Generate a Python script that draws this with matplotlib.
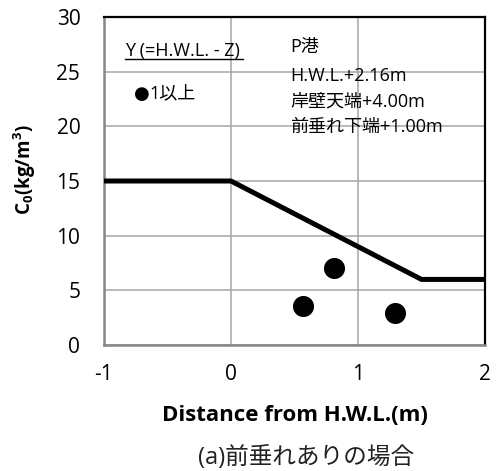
import matplotlib
matplotlib.use("Agg")
import matplotlib.pyplot as plt

plt.rcParams['font.family'] = ['Open Sans', 'Noto Sans CJK JP', 'DejaVu Sans']
plt.rcParams['axes.unicode_minus'] = False

line_x = [-1, 0, 1.5, 2]
line_y = [15, 15, 6, 6]
pts_x = [0.81, 0.57, 1.29]
pts_y = [7.0, 3.6, 2.9]
xticks = [-1, 0, 1, 2]
yticks = [0, 5, 10, 15, 20, 25, 30]
info_lines = ['P港', 'H.W.L.+2.16m', '岸壁天端+4.00m', '前垂れ下端+1.00m']

fig = plt.figure(figsize=(4.98, 4.71), dpi=100)
ax = fig.add_axes([0.2088, 0.2675, 0.7651, 0.6964])
ax.set_xlim(-1, 2)
ax.set_ylim(0, 30)
ax.set_xticks(xticks)
ax.set_yticks(yticks)
ax.grid(True, color='#a6a6a6', linewidth=1.1)
ax.set_axisbelow(True)
ax.plot(line_x, line_y, color='black', linewidth=3.6, solid_capstyle='butt', clip_on=False, zorder=3)
ax.scatter(pts_x, pts_y, s=200, color='black', zorder=4)

for s in ['left', 'bottom']:
    ax.spines[s].set_color('#868686')
    ax.spines[s].set_linewidth(1.8)
for s in ['top', 'right']:
    ax.spines[s].set_color('black')
    ax.spines[s].set_linewidth(1.6)
ax.tick_params(length=0, labelsize=15)
ax.tick_params(axis='y', pad=17)
ax.tick_params(axis='x', pad=14)

ax.set_xlabel('Distance from H.W.L.(m)', fontsize=16, fontweight='bold')
ax.xaxis.label.set_va('center')
ax.xaxis.set_label_coords(0.5, -0.215)
ax.set_ylabel(r'C$_\mathregular{0}$(kg/m$^\mathregular{3}$)', fontsize=13.5, fontweight='bold')
ax.yaxis.label.set_va('center')
ax.yaxis.set_label_coords(-0.207, 0.534)

ax.text(-0.835, 26.9, 'Y (=H.W.L. - Z)', fontsize=13, ha='left', va='center')
ax.plot([-0.835, 0.094], [26.2, 26.2], color='black', linewidth=1.0, clip_on=False)
ax.text(-0.76, 23.0, '●', fontsize=13, ha='left', va='center', family=['DejaVu Sans'])
ax.text(-0.645, 23.0, '1以上', fontsize=13, ha='left', va='center')
info_y = [27.3, 24.6, 22.3, 19.95]
for t, yy in zip(info_lines, info_y):
    ax.text(0.465, yy, t, fontsize=13, ha='left', va='center')

fig.text(0.615, 0.028, '(a)前垂れありの場合', fontsize=17, ha='center', va='center', color='#222222')

fig.savefig('out.png', dpi=100)
